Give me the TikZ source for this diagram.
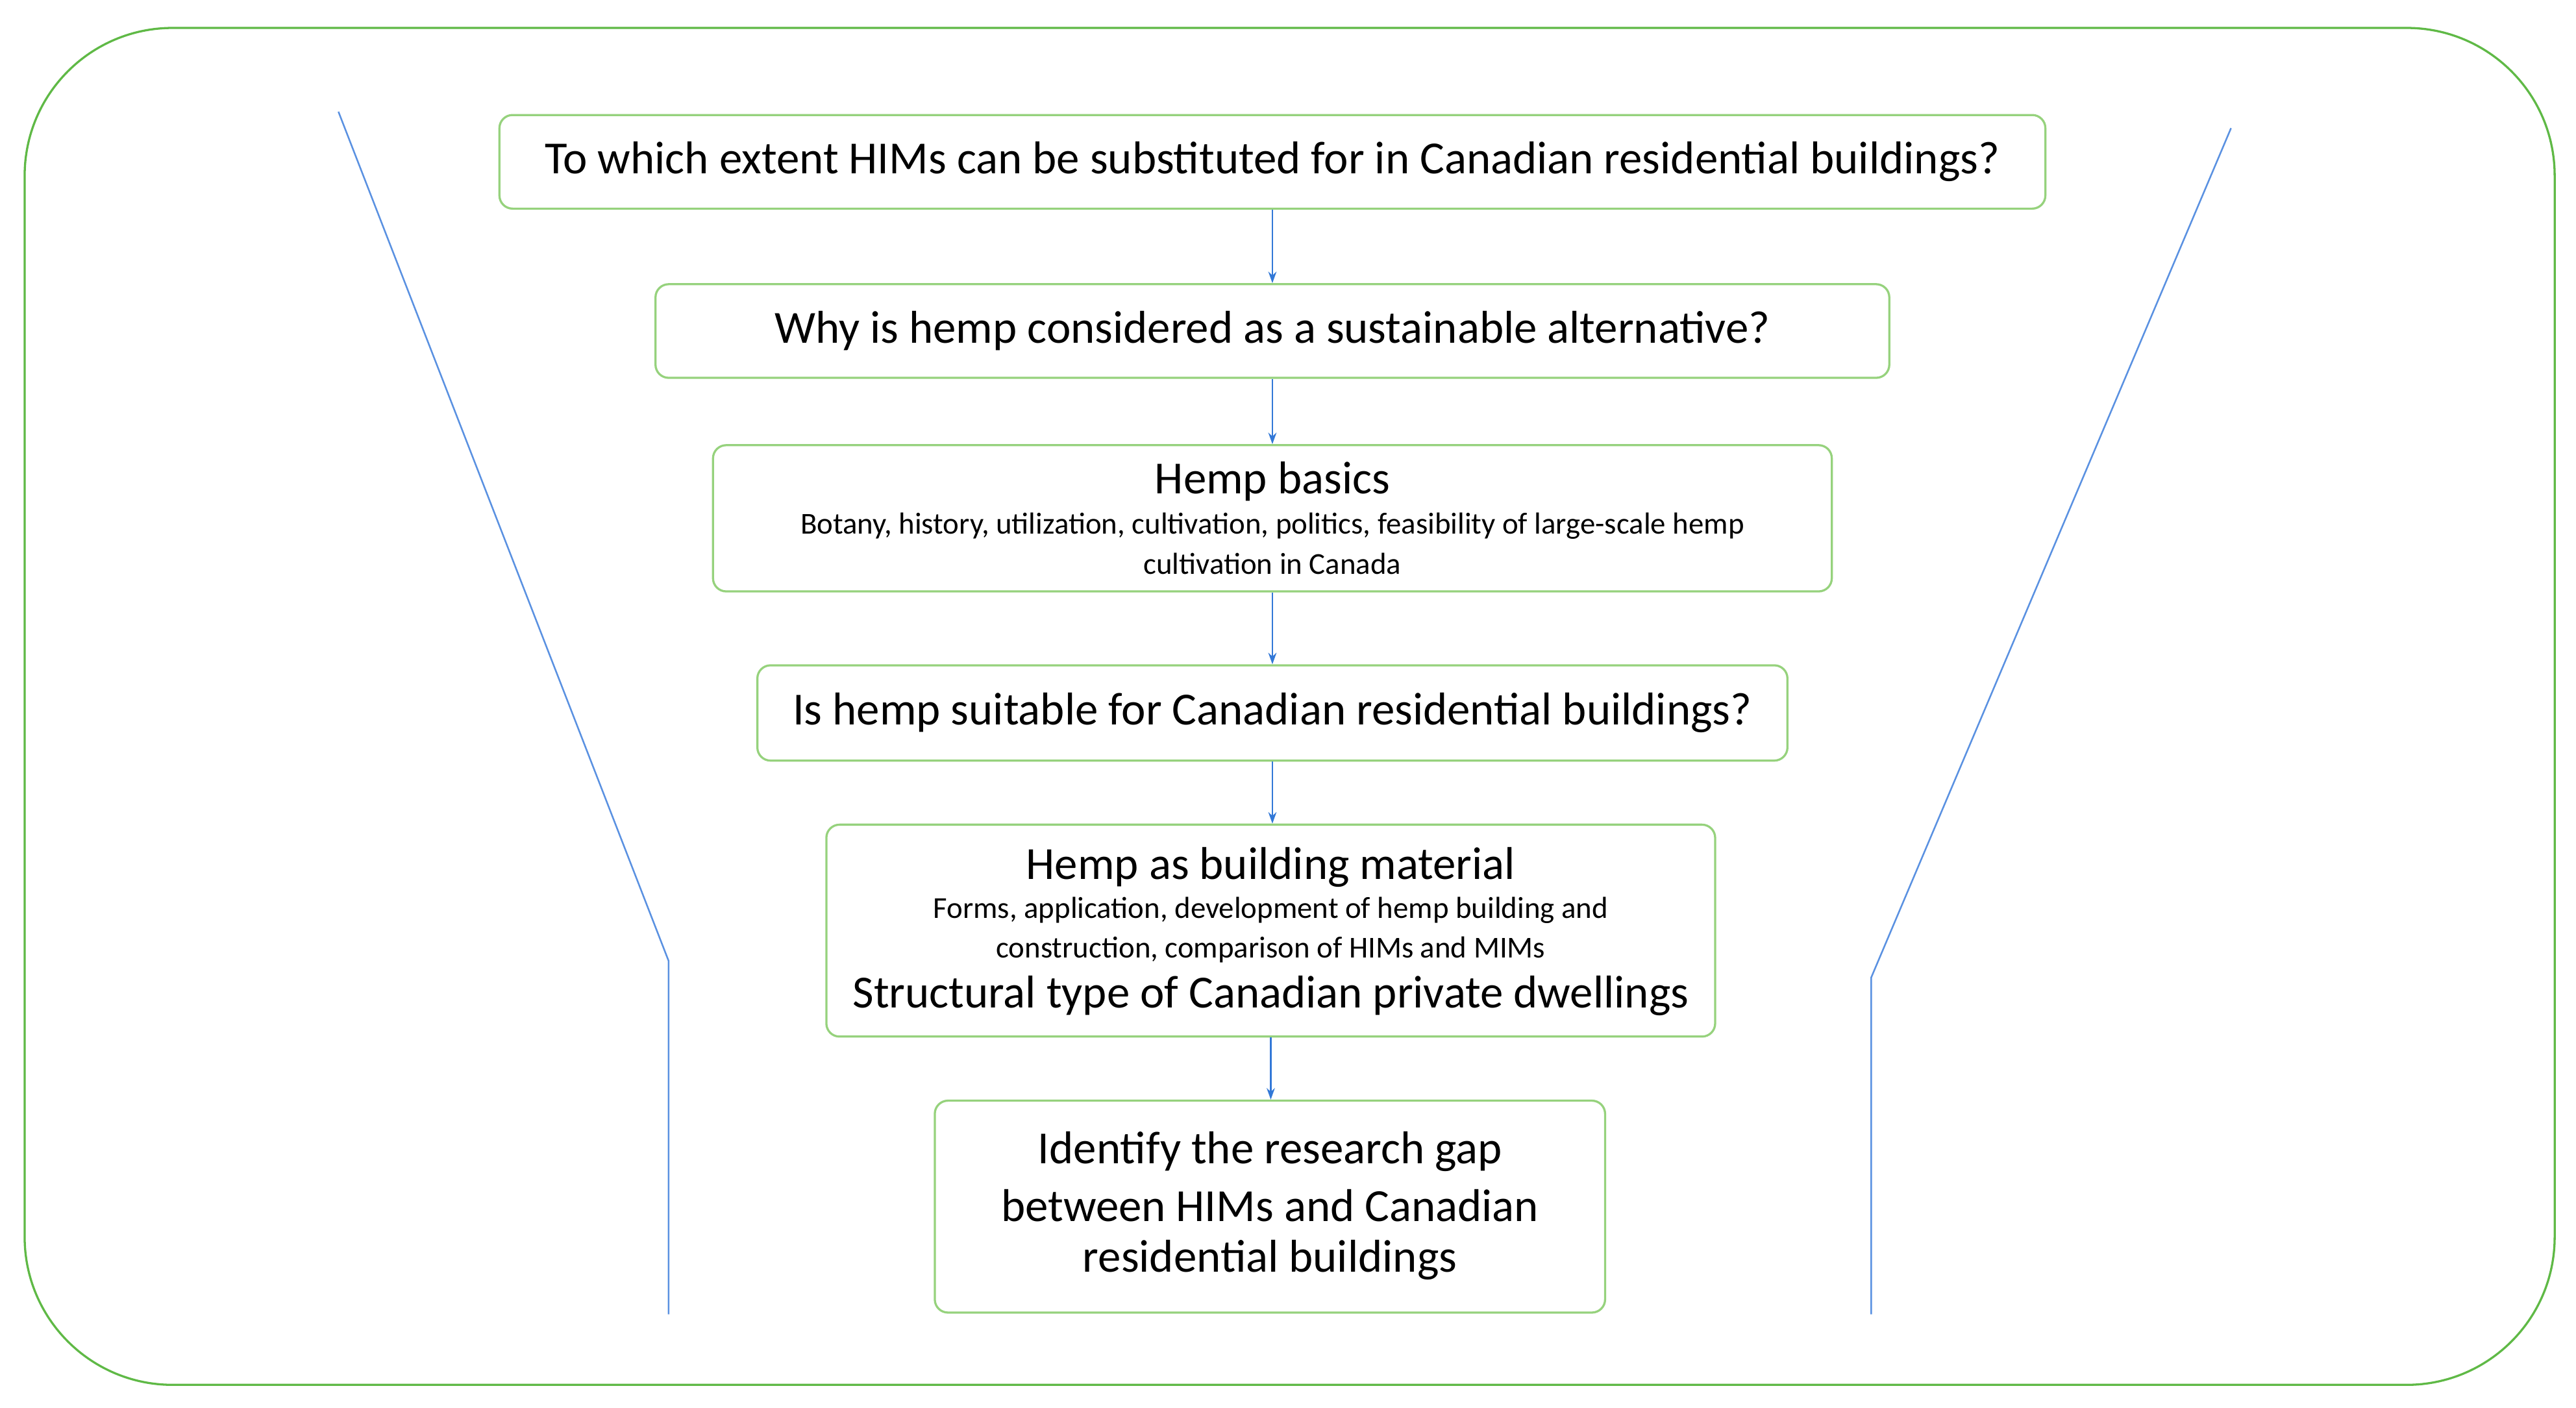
\documentclass[tikz,border=0pt]{standalone}
\usepackage{fontspec}
\setmainfont{Carlito}
\usetikzlibrary{arrows.meta}
\definecolor{outg}{RGB}{95,185,70}
\definecolor{boxg}{RGB}{150,210,125}
\definecolor{fb}{RGB}{90,145,225}
\definecolor{ab}{RGB}{50,120,215}
\begin{document}
\begin{tikzpicture}[x=1pt,y=-1pt,
  qbox/.style={draw=boxg,line width=1.3pt,rounded corners=8pt,inner sep=0pt},
  big/.style={font=\fontsize{28}{34}\selectfont,inner sep=0pt},
  small/.style={font=\fontsize{18.5}{22}\selectfont,inner sep=0pt},
  arr/.style={draw=ab,line width=0.9pt,-{Stealth[length=7pt,width=5pt]}},
  fun/.style={draw=fb,line width=1pt}]
\useasboundingbox (0,0) rectangle (1568,857);
\draw[draw=outg,line width=1.3pt,rounded corners=90pt] (15,17) rectangle (1555,843);
\draw[fun] (206,68) -- (407,585) -- (407,800);
\draw[fun] (1358,78) -- (1139,595) -- (1139,800);
\node[qbox,minimum width=941pt,minimum height=57pt] (b1) at (774.5,98.5) {};
\node[big] (t1) at (b1) {To which extent HIMs can be substituted for in Canadian residential buildings?};
\node[qbox,minimum width=751pt,minimum height=57pt] (b2) at (774.5,201.5) {};
\node[big] (t2) at (b2) {Why is hemp considered as a sustainable alternative?};
\node[qbox,minimum width=681pt,minimum height=89pt] (b3) at (774.5,315.5) {};
\node[big] (t3a) at (774.5,293) {Hemp basics};
\node[small] (t3b) at (774.5,320) {Botany, history, utilization, cultivation, politics, feasibility of large-scale hemp};
\node[small] (t3c) at (774.5,343) {cultivation in Canada};
\node[qbox,minimum width=627pt,minimum height=58pt] (b4) at (774.5,434) {};
\node[big] (t4) at (b4) {Is hemp suitable for Canadian residential buildings?};
\node[qbox,minimum width=541pt,minimum height=129pt] (b5) at (773.5,566.5) {};
\node[big] (t5a) at (773.5,528) {Hemp as building material};
\node[small] (t5b) at (773.5,554) {Forms, application, development of hemp building and};
\node[small] (t5c) at (773.5,578) {construction, comparison of HIMs and MIMs};
\node[big] (t5d) at (773.5,606) {Structural type of Canadian private dwellings};
\node[qbox,minimum width=408pt,minimum height=129pt] (b6) at (773,734.5) {};
\node[big] (t6a) at (773,701) {Identify the research gap};
\node[big] (t6b) at (773,734) {between HIMs and Canadian};
\node[big] (t6c) at (773,767) {residential buildings};
\draw[arr] (b1.south) -- (b2.north);
\draw[arr] (b2.south) -- (b3.north);
\draw[arr] (b3.south) -- (b4.north);
\draw[arr] (b4.south) -- (b4.south |- b5.north);
\draw[arr] (b5.south) -- (b5.south |- b6.north);
\end{tikzpicture}
\end{document}
